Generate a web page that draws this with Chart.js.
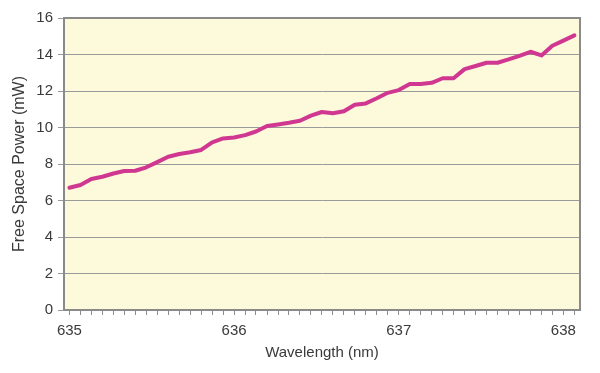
<!DOCTYPE html>
<html>
<head>
<meta charset="utf-8">
<script src="https://cdn.jsdelivr.net/npm/chart.js@4"></script>
<style>
  html, body { margin: 0; padding: 0; background: #ffffff; }
  #wrap { width: 600px; height: 373px; position: relative; }
</style>
</head>
<body>
<div id="wrap"><canvas id="c" width="600" height="373"></canvas></div>
<script>
// Wavelength (nm)
const wavelengths = [
  635.000, 635.067, 635.133, 635.200, 635.267, 635.333, 635.400, 635.467, 635.533, 635.600,
  635.667, 635.733, 635.800, 635.867, 635.933, 636.000, 636.067, 636.133, 636.200, 636.267,
  636.333, 636.400, 636.467, 636.533, 636.600, 636.667, 636.733, 636.800, 636.867, 636.933,
  637.000, 637.067, 637.133, 637.200, 637.267, 637.333, 637.400, 637.467, 637.533, 637.600,
  637.667, 637.733, 637.800, 637.867, 637.933, 638.000, 638.067
];
// Free space power (mW)
const powerValues = [
  6.70, 6.85, 7.18, 7.30, 7.48, 7.62, 7.63, 7.82, 8.10, 8.40,
  8.55, 8.64, 8.77, 9.19, 9.40, 9.45, 9.58, 9.78, 10.08, 10.17,
  10.26, 10.37, 10.65, 10.85, 10.78, 10.89, 11.25, 11.32, 11.60, 11.90,
  12.05, 12.38, 12.38, 12.45, 12.70, 12.70, 13.20, 13.37, 13.55, 13.55,
  13.73, 13.93, 14.15, 13.95, 14.48, 14.76, 15.05
];
// x-axis tick marks (minor every 1/15 nm), labelled at whole nm
const xTickValues = wavelengths;
const xTickLabels = [635, 636, 637, 638];
const yTickLabels = [0, 2, 4, 6, 8, 10, 12, 14, 16];

const FONT = '"Liberation Sans", Arial, "DejaVu Sans", sans-serif';
const TEXT = '#3a3a3a';

const areaPlugin = {
  id: 'areaPlugin',
  beforeDraw(chart) {
    const {ctx, chartArea: a} = chart;
    ctx.save();
    ctx.fillStyle = '#fdfadc';
    ctx.fillRect(a.left, a.top, a.right - a.left, a.bottom - a.top);
    ctx.restore();
  },
  afterDraw(chart) {
    const {ctx, chartArea: a} = chart;
    ctx.save();
    ctx.strokeStyle = '#8a8a8a';
    ctx.lineWidth = 2;
    ctx.beginPath();
    ctx.moveTo(a.left, a.top);
    ctx.lineTo(a.right, a.top);
    ctx.lineTo(a.right, a.bottom);
    ctx.stroke();
    ctx.restore();
  }
};

new Chart(document.getElementById('c'), {
  type: 'line',
  data: {
    datasets: [{
      data: wavelengths.map((w, i) => ({x: w, y: powerValues[i]})),
      borderColor: '#cf3790',
      borderWidth: 4,
      pointRadius: 0,
      tension: 0,
      borderJoinStyle: 'round',
      borderCapStyle: 'round',
      fill: false
    }]
  },
  plugins: [areaPlugin],
  options: {
    responsive: false,
    animation: false,
    devicePixelRatio: 1,
    layout: { padding: { top: 18, right: 20, bottom: 0, left: 0 } },
    plugins: { legend: { display: false }, tooltip: { enabled: false } },
    scales: {
      x: {
        type: 'linear',
        min: 634.967,
        max: 638.101,
        afterFit(s) { s.height = 63; },
        afterBuildTicks(s) { s.ticks = xTickValues.map(v => ({value: v})); },
        grid: { drawOnChartArea: false, drawTicks: true, tickLength: 5, color: '#8a8a8a', lineWidth: 1 },
        border: { display: true, color: '#8a8a8a', width: 2 },
        ticks: {
          autoSkip: false, maxRotation: 0, padding: 7,
          color: TEXT, font: { family: FONT, size: 15 },
          callback(v) {
            const r = Math.round(v);
            return (Math.abs(v - r) < 1e-3 && xTickLabels.includes(r)) ? String(r) : '';
          }
        },
        title: { display: true, text: 'Wavelength (nm)', color: TEXT, font: { family: FONT, size: 15 }, padding: { top: 0, bottom: 11 } }
      },
      y: {
        min: 0, max: 16,
        afterFit(s) { s.width = 64; },
        afterBuildTicks(s) { s.ticks = yTickLabels.map(v => ({value: v})); },
        grid: { color: '#9a9a9a', lineWidth: 1, drawTicks: true, tickLength: 6 },
        border: { display: true, color: '#8a8a8a', width: 2 },
        ticks: { padding: 5, color: TEXT, font: { family: FONT, size: 15 } },
        title: { display: true, text: 'Free Space Power (mW)', color: TEXT, font: { family: FONT, size: 16 }, padding: { top: 10, bottom: 0 } }
      }
    }
  }
});
</script>
</body>
</html>
